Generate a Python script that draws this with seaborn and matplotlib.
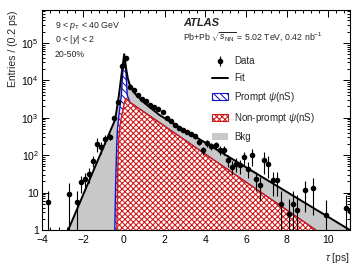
import numpy as np
import pandas as pd
import seaborn as sns
import matplotlib.pyplot as plt
from matplotlib.lines import Line2D
from matplotlib.patches import Patch
from matplotlib.ticker import MultipleLocator, LogLocator, FuncFormatter, NullFormatter

# datos (tau en ps, entradas por 0.2 ps)
data_tau = [-3.7, -2.7, -2.3, -2.1, -1.9, -1.7, -1.5, -1.3, -1.1, -0.9, -0.7, -0.5, -0.3, -0.1,
            0.1, 0.3, 0.5, 0.7, 0.9, 1.1, 1.3, 1.5, 1.7, 1.9, 2.1, 2.3, 2.5, 2.7, 2.9, 3.1,
            3.3, 3.5, 3.7, 3.9, 4.1, 4.3, 4.5, 4.7, 4.9, 5.1, 5.3, 5.5, 5.7, 5.9, 6.1, 6.3,
            6.5, 6.7, 6.9, 7.1, 7.3, 7.5, 7.7, 8.1, 8.3, 8.5, 8.9, 9.3, 9.9, 10.9, 11.1]
data_n = [5.6, 9.1, 5.6, 19, 23, 32, 72, 204, 166, 269, 309, 1000, 2630, 24000,
          40000, 6600, 5370, 3980, 3240, 2750, 2240, 1950, 1740, 1410, 1000, 810, 630, 525, 468, 417,
          363, 316, 229, 135, 214, 178, 186, 141, 135, 74, 49, 60, 54, 89, 44, 100,
          23, 16, 76, 60, 22, 22, 5.1, 2.7, 5.1, 3.5, 12, 13.5, 2.5, 3.8, 3.3]
data_err = [5.5, 9, 5.5, 9, 11, 14, 25, 80, 60, 70, 60, 100, 200, 600,
            800, 300, 250, 200, 170, 150, 130, 120, 110, 100, 80, 70, 60, 55, 50, 48,
            45, 45, 40, 35, 45, 40, 42, 38, 36, 25, 20, 24, 22, 33, 20, 50,
            12, 10, 45, 35, 14, 14, 6, 4, 6, 5, 9, 11, 4, 5, 5]

# curvas del ajuste
fit_tau = [-2.73, -0.44, -0.38, -0.24, -0.1, 0.02, 0.12, 0.2, 0.28, 0.54, 1.0, 1.76, 11.1]
fit_n = [1.0, 851, 1260, 3980, 15850, 50100, 19950, 11200, 7940, 4470, 2510, 1175, 1.0]

prompt_tau = [-0.44, -0.4, -0.35, -0.31, -0.24, -0.12, -0.05, 0.02, 0.1, 0.14, 0.17, 0.3, 9.42]
prompt_n = [1.0, 16, 158, 501, 1120, 3980, 15850, 46800, 19950, 7940, 3980, 2570, 1.0]

nonprompt_tau = [-0.34, -0.3, -0.25, -0.17, -0.05, 0.05, 0.12, 0.3, 9.42]
nonprompt_n = [1.0, 32, 282, 708, 1585, 2820, 3310, 2570, 1.0]

sns.set_theme(style='ticks')
plt.rcParams['font.family'] = ['Liberation Sans', 'DejaVu Sans']
plt.rcParams['mathtext.fontset'] = 'custom'
plt.rcParams['mathtext.rm'] = 'Liberation Sans'
plt.rcParams['mathtext.it'] = 'Liberation Sans:italic'
plt.rcParams['mathtext.bf'] = 'Liberation Sans:bold'
plt.rcParams['hatch.linewidth'] = 0.75

gris = '#c8c8c8'
azul = '#1010c8'
rojo = '#d01818'

fig, ax = plt.subplots(figsize=(3.55, 2.66), dpi=100)
fig.subplots_adjust(left=0.119, right=0.986, bottom=0.135, top=0.962)

# relleno Bkg (total del ajuste)
ax.fill_between(fit_tau, 0.5, fit_n, color=gris, linewidth=0, zorder=1)
# prompt
ax.fill_between(prompt_tau, 0.5, prompt_n, facecolor='white', edgecolor=azul,
                hatch='\\\\\\\\\\', linewidth=0, zorder=2)
sns.lineplot(x=prompt_tau, y=prompt_n, ax=ax, color=azul, linewidth=1.0,
             sort=False, estimator=None, zorder=3)
# non-prompt
ax.fill_between(nonprompt_tau, 0.5, nonprompt_n, facecolor='white', edgecolor=rojo,
                hatch='xxxxxx', linewidth=0, zorder=4)
sns.lineplot(x=nonprompt_tau, y=nonprompt_n, ax=ax, color=rojo, linewidth=1.0,
             sort=False, estimator=None, zorder=5)
# ajuste total
sns.lineplot(x=fit_tau, y=fit_n, ax=ax, color='black', linewidth=1.4,
             sort=False, estimator=None, zorder=6)

# datos
datos = ax.errorbar(data_tau, data_n, yerr=data_err, fmt='o', color='black',
                    markersize=3.0, elinewidth=0.8, capsize=0, zorder=7)

ax.set_yscale('log')
ax.set_xlim(-4, 11.1)
ax.set_ylim(1, 7.5e5)

ax.xaxis.set_major_locator(MultipleLocator(2))
ax.xaxis.set_minor_locator(MultipleLocator(0.4))
ax.yaxis.set_major_locator(LogLocator(base=10, numticks=10))
ax.yaxis.set_minor_locator(LogLocator(base=10, subs=np.arange(2, 10), numticks=20))
ax.yaxis.set_minor_formatter(NullFormatter())


def fmt_y(v, pos):
    if v < 1.5:
        return '1'
    if v < 15:
        return '10'
    return '$10^{%d}$' % int(round(np.log10(v)))


ax.yaxis.set_major_formatter(FuncFormatter(fmt_y))
ax.tick_params(which='both', direction='in', top=True, right=True, labelsize=7.5,
               colors='black', width=0.7)
ax.tick_params(which='major', length=5)
ax.tick_params(which='minor', length=2.5)
ax.tick_params(axis='x', which='major', pad=3.2)
ax.tick_params(axis='y', which='major', pad=2.5)
for s in ax.spines.values():
    s.set_linewidth(0.8)
    s.set_color('black')

ax.set_ylabel('Entries / (0.2 ps)', fontsize=7.5, loc='top', labelpad=2)
ax.set_xlabel(r'$\tau$ [ps]', fontsize=7.5, loc='right', labelpad=5)

# textos
ax.text(0.04, 0.93, r'9 < $p_{\mathrm{T}}$ < 40 GeV', transform=ax.transAxes, fontsize=6.3, va='center')
ax.text(0.04, 0.865, r'0 < |$y$| < 2', transform=ax.transAxes, fontsize=6.3, va='center')
ax.text(0.04, 0.80, '20-50%', transform=ax.transAxes, fontsize=6.3, va='center')
ax.text(0.458, 0.94, 'ATLAS', transform=ax.transAxes, fontsize=8, fontweight='bold',
        style='italic', va='center')
ax.text(0.458, 0.875, r'Pb+Pb $\sqrt{s_{\mathrm{NN}}}$ = 5.02 TeV, 0.42 nb$^{-1}$',
        transform=ax.transAxes, fontsize=6.3, va='center')

handles = [datos,
           Line2D([], [], color='black', linewidth=1.4),
           Patch(facecolor='white', edgecolor=azul, hatch='\\\\\\\\\\', linewidth=0.8),
           Patch(facecolor='white', edgecolor=rojo, hatch='xxxxxx', linewidth=0.8),
           Patch(facecolor=gris, edgecolor='none')]
etiquetas = ['Data', 'Fit', r'Prompt $\psi$(nS)', r'Non-prompt $\psi$(nS)', 'Bkg']
ax.legend(handles, etiquetas, loc='upper left', bbox_to_anchor=(0.55, 0.79),
          frameon=False, fontsize=7, handlelength=1.7, handleheight=0.7,
          labelspacing=0.7, borderpad=0, borderaxespad=0, handletextpad=0.6)

fig.savefig('out.png', dpi=100)
